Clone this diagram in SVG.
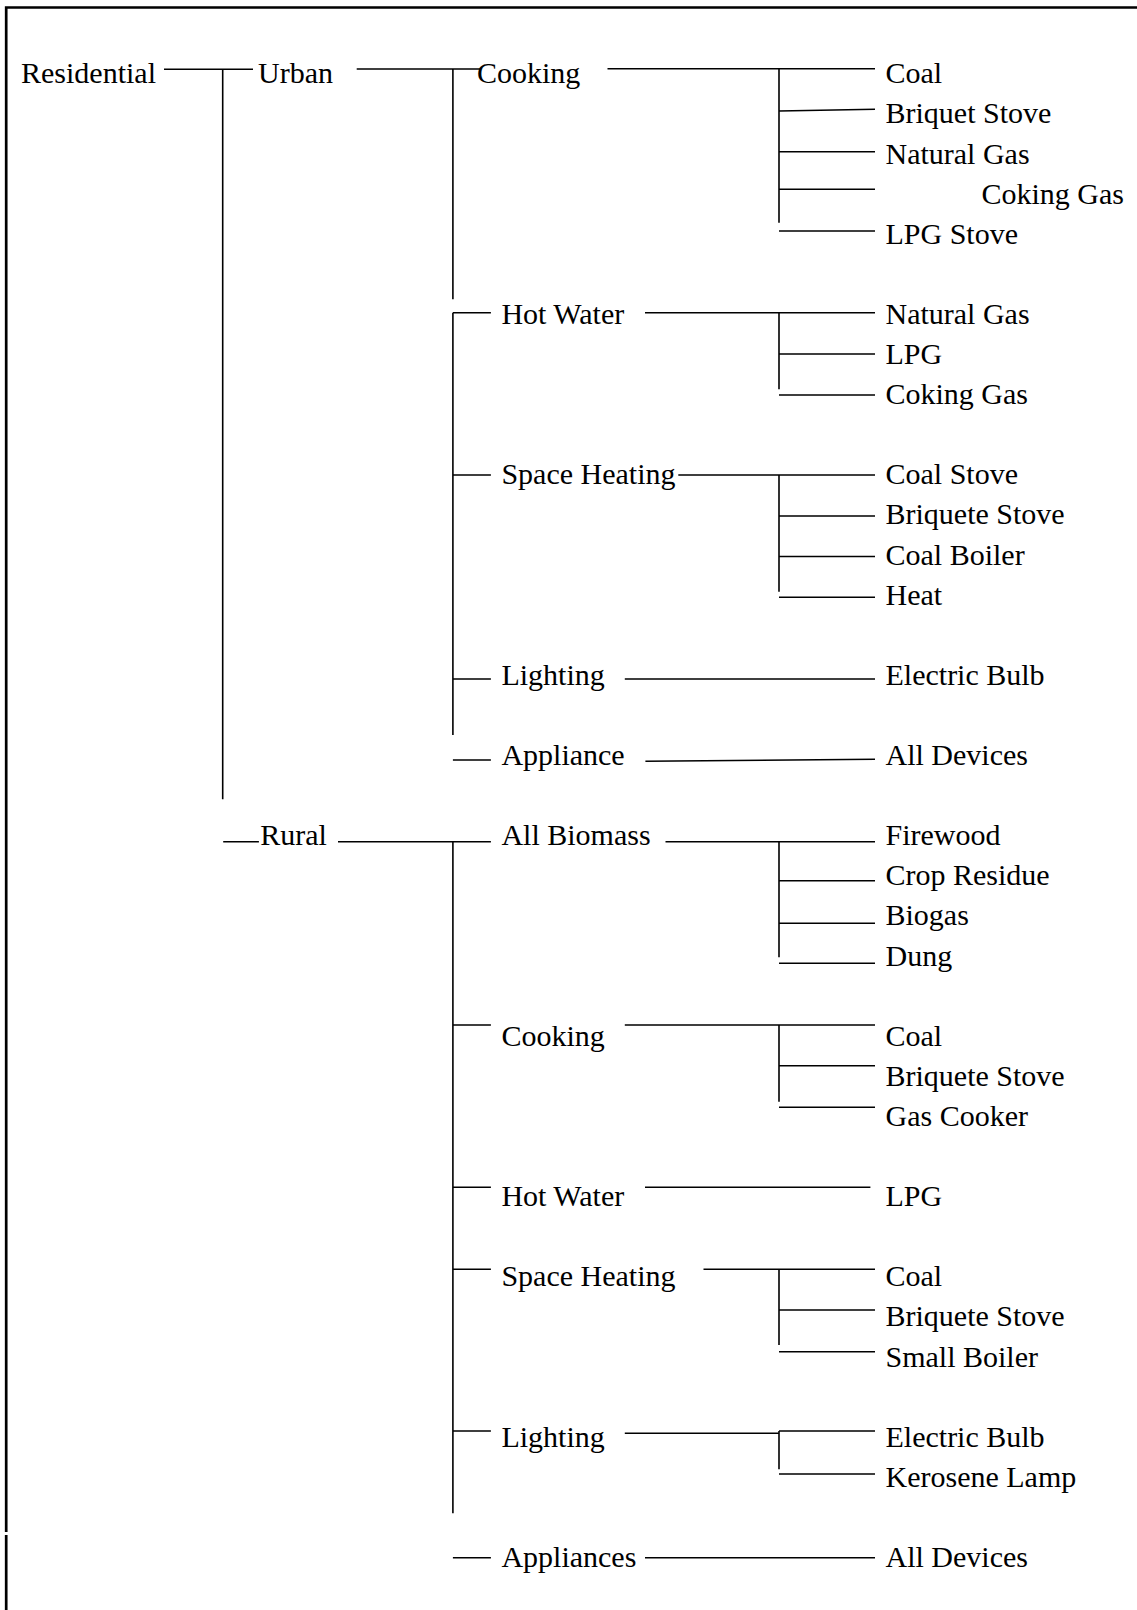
<svg xmlns="http://www.w3.org/2000/svg" width="1137" height="1610" viewBox="0 0 1137 1610">
<style>
text{font-family:"Liberation Serif","Times New Roman",serif;font-size:30px;fill:#000}
.c path{fill:none;stroke:#000;stroke-width:1.6}
.b{fill:none;stroke:#000;stroke-width:2.7}
</style>
<rect width="1137" height="1610" fill="#fff"/>
<g id="frame"><path class="b" d="M4.9,7.5H1137M6.2,6.2V1532M6.2,1535V1610"/></g>
<g class="c" id="connectors">
<path d="M164,69.3H253M222.7,69.3V799.3M223.2,841.7H258.9"/>
<path d="M356.7,69H480M452.9,69V299.3M452.9,312.7V735M452.9,312.7H490.9M452.9,475H490.9M452.9,679H490.9M452.9,760H490.9"/>
<path d="M607.5,68.8H875M779,68.8V222.7M779,111L875,109.3M779,151.7H875M779,189.3H875M779,231H875"/>
<path d="M645,312.7H875M779,312.7V389.3M779,354H875M779,395H875"/>
<path d="M678.3,475H875M779,475V591.7M779,516H875M779,556.5H875M779,597.3H875"/>
<path d="M624.8,679H875M645.4,761.3L875,759.3"/>
<path d="M338,841.7H490.9M452.9,841.7V1513.3M452.9,1025H490.9M452.9,1187.3H490.9M452.9,1269.3H490.9M452.9,1431H490.9M452.9,1557.7H490.9"/>
<path d="M665.5,841.7H875M779,841.7V957.3M779,880.7H875M779,923.3H875M779,963.3H875"/>
<path d="M624.8,1025H875M779,1025V1101.7M779,1065.7H875M779,1107.3H875"/>
<path d="M645,1187.3H870.4"/>
<path d="M703.5,1269.3H875M779,1269.3V1345M779,1310H875M779,1351.7H875"/>
<path d="M624.8,1433.3H779M779,1431H875M779,1431V1469.3M779,1474H875"/>
<path d="M645,1557.7H875"/>
</g>
<g id="n-residential"><text x="21" y="83.3">Residential</text></g>
<g id="n-urban"><text x="258" y="83.3">Urban</text></g>
<g id="n-u-cooking"><text x="477" y="83.3">Cooking</text></g>
<g id="n-u-cooking-coal"><text x="885.5" y="83.3">Coal</text></g>
<g id="n-u-cooking-briquet"><text x="885.5" y="123.4">Briquet Stove</text></g>
<g id="n-u-cooking-ng"><text x="885.5" y="163.5">Natural Gas</text></g>
<g id="n-u-cooking-coking"><text x="981.5" y="203.6">Coking Gas</text></g>
<g id="n-u-cooking-lpg"><text x="885.5" y="243.7">LPG Stove</text></g>
<g id="n-u-hotwater"><text x="501.4" y="323.9">Hot Water</text></g>
<g id="n-u-hw-ng"><text x="885.5" y="323.9">Natural Gas</text></g>
<g id="n-u-hw-lpg"><text x="885.5" y="364">LPG</text></g>
<g id="n-u-hw-coking"><text x="885.5" y="404.1">Coking Gas</text></g>
<g id="n-u-space"><text x="501.4" y="484.3">Space Heating</text></g>
<g id="n-u-sh-coalstove"><text x="885.5" y="484.3">Coal Stove</text></g>
<g id="n-u-sh-briquete"><text x="885.5" y="524.4">Briquete Stove</text></g>
<g id="n-u-sh-coalboiler"><text x="885.5" y="564.5">Coal Boiler</text></g>
<g id="n-u-sh-heat"><text x="885.5" y="604.6">Heat</text></g>
<g id="n-u-lighting"><text x="501.4" y="684.8">Lighting</text></g>
<g id="n-u-l-bulb"><text x="885.5" y="684.8">Electric Bulb</text></g>
<g id="n-u-appliance"><text x="501.4" y="765">Appliance</text></g>
<g id="n-u-a-devices"><text x="885.5" y="765">All Devices</text></g>
<g id="n-rural"><text x="260.3" y="845.2">Rural</text></g>
<g id="n-r-biomass"><text x="501.4" y="845.2">All Biomass</text></g>
<g id="n-r-b-firewood"><text x="885.5" y="845.2">Firewood</text></g>
<g id="n-r-b-crop"><text x="885.5" y="885.3">Crop Residue</text></g>
<g id="n-r-b-biogas"><text x="885.5" y="925.4">Biogas</text></g>
<g id="n-r-b-dung"><text x="885.5" y="965.5">Dung</text></g>
<g id="n-r-cooking"><text x="501.4" y="1045.7">Cooking</text></g>
<g id="n-r-c-coal"><text x="885.5" y="1045.7">Coal</text></g>
<g id="n-r-c-briquete"><text x="885.5" y="1085.8">Briquete Stove</text></g>
<g id="n-r-c-gascooker"><text x="885.5" y="1125.9">Gas Cooker</text></g>
<g id="n-r-hotwater"><text x="501.4" y="1206.1">Hot Water</text></g>
<g id="n-r-hw-lpg"><text x="885.5" y="1206.1">LPG</text></g>
<g id="n-r-space"><text x="501.4" y="1286.3">Space Heating</text></g>
<g id="n-r-sh-coal"><text x="885.5" y="1286.3">Coal</text></g>
<g id="n-r-sh-briquete"><text x="885.5" y="1326.4">Briquete Stove</text></g>
<g id="n-r-sh-smallboiler"><text x="885.5" y="1366.5">Small Boiler</text></g>
<g id="n-r-lighting"><text x="501.4" y="1446.7">Lighting</text></g>
<g id="n-r-l-bulb"><text x="885.5" y="1446.7">Electric Bulb</text></g>
<g id="n-r-l-kerosene"><text x="885.5" y="1486.8">Kerosene Lamp</text></g>
<g id="n-r-appliances"><text x="501.4" y="1567">Appliances</text></g>
<g id="n-r-a-devices"><text x="885.5" y="1567">All Devices</text></g>
</svg>
